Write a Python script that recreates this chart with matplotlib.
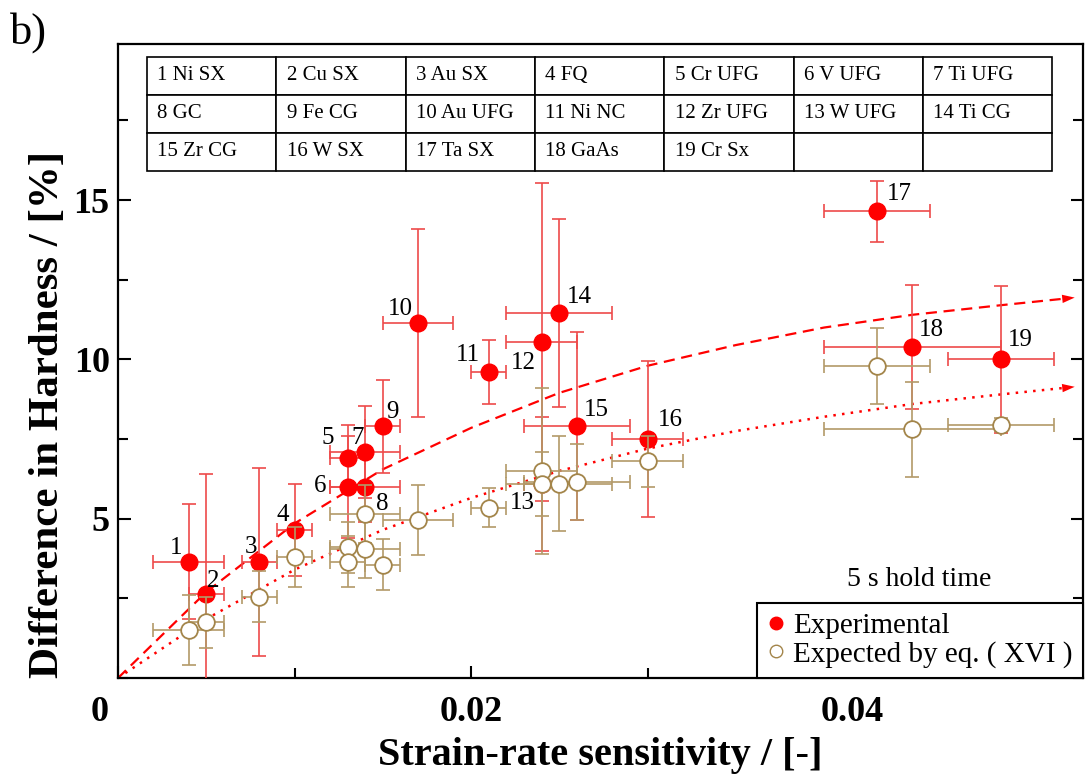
import matplotlib
matplotlib.use('Agg')
import matplotlib.pyplot as plt
from matplotlib.lines import Line2D
from matplotlib.ticker import MultipleLocator
from matplotlib.transforms import ScaledTranslation

plt.rcParams['font.family'] = ['Liberation Serif', 'DejaVu Serif']

# Datos
etiquetas = [str(i) for i in range(1, 20)]
srs = [0.0040, 0.0050, 0.0080, 0.0100, 0.0130, 0.0130, 0.0140, 0.0140, 0.0150, 0.0170,
       0.0210, 0.0240, 0.0240, 0.0250, 0.0260, 0.0300, 0.0430, 0.0450, 0.0500]
srs_err = [0.002, 0.001, 0.001, 0.001, 0.001, 0.001, 0.002, 0.002, 0.001, 0.002,
           0.001, 0.002, 0.001, 0.003, 0.003, 0.002, 0.003, 0.005, 0.003]

exp_y = [3.65, 2.65, 3.65, 4.65, 6.9, 6.0, 7.1, 6.0, 7.9, 11.15,
         9.6, 10.55, 6.1, 11.45, 7.9, 7.5, 14.65, 10.4, 10.0]
exp_yerr = [1.8, 3.75, 2.95, 1.45, 1.05, 1.6, 1.45, 1.1, 1.45, 2.95,
            1.0, 5.0, 2.1, 2.95, 2.95, 2.45, 0.95, 1.95, 2.3]

teo_y = [1.5, 1.75, 2.55, 3.8, 4.1, 3.65, 4.05, 5.15, 3.55, 4.95,
         5.35, 6.5, 6.1, 6.1, 6.15, 6.8, 9.8, 7.8, 7.95]
teo_yerr = [1.1, 0.8, 0.8, 0.95, 0.8, 0.8, 0.9, 0.9, 0.8, 1.1,
            0.6, 2.6, 1.0, 1.5, 1.2, 0.8, 1.2, 1.5, 0.2]

# desplazamiento de cada numero respecto a su punto (pixeles)
etiqueta_dx = [-13, 7, -8, -12, -20, -27, -8, 17, 10, -18, -21, -18, -19, 20, 19, 23, 22, 19, 20]
etiqueta_dy = [14, 13, 15, 15, 20, 1, 14, -17, 14, 14, 17, -21, -19, 16, 16, 19, 17, 17, 19]

# curvas de tendencia
curva_x = [0, 0.005, 0.010, 0.015, 0.020, 0.025, 0.030, 0.035, 0.040, 0.045, 0.050, 0.0535]
curva_exp = [0, 2.7, 4.85, 6.55, 7.85, 8.95, 9.8, 10.45, 11.0, 11.4, 11.7, 11.9]
curva_teo = [0, 1.85, 3.4, 4.65, 5.65, 6.5, 7.2, 7.75, 8.2, 8.6, 8.9, 9.1]

tabla = [['1 Ni SX', '2 Cu SX', '3 Au SX', '4 FQ', '5 Cr UFG', '6 V UFG', '7 Ti UFG'],
         ['8 GC', '9 Fe CG', '10 Au UFG', '11 Ni NC', '12 Zr UFG', '13 W UFG', '14 Ti CG'],
         ['15 Zr CG', '16 W SX', '17 Ta SX', '18 GaAs', '19 Cr Sx', '', '']]

ROJO = '#ff0000'
ROJO_ERR = '#ee4a4a'
CAFE = '#a3854a'
CAFE_ERR = '#b39a68'

fig = plt.figure(figsize=(10.89, 7.76), dpi=100)
ax = fig.add_axes([0.1084, 0.1263, 0.8861, 0.8170])

# curvas de tendencia con flecha al final
ax.plot(curva_x, curva_exp, ls=(0, (5, 3)), color=ROJO, lw=1.6, zorder=2)
ax.plot(curva_x, curva_teo, ls=(0, (1, 2.5)), color=ROJO, lw=1.8, zorder=2)
for cy in (curva_exp, curva_teo):
    ax.annotate('', xy=(0.0542, cy[-1] + (cy[-1] - cy[-2]) * 0.2), xytext=(curva_x[-2], cy[-2]),
                arrowprops=dict(arrowstyle='-|>,head_length=0.9,head_width=0.3',
                                color=ROJO, lw=0, shrinkA=0, shrinkB=0), zorder=2)

# puntos experimentales y esperados
ax.errorbar(srs, exp_y, xerr=srs_err, yerr=exp_yerr, fmt='none', ecolor=ROJO_ERR,
            elinewidth=1.2, capsize=5, capthick=1.2, zorder=3)
ax.plot(srs, exp_y, 'o', color=ROJO, markersize=12, zorder=4)
ax.errorbar(srs, teo_y, xerr=srs_err, yerr=teo_yerr, fmt='none', ecolor=CAFE_ERR,
            elinewidth=1.2, capsize=5, capthick=1.2, zorder=5)
ax.plot(srs, teo_y, 'o', mfc='white', mec=CAFE, mew=1.3, markersize=12, zorder=6)

for lab, x, y, dx, dy in zip(etiquetas, srs, exp_y, etiqueta_dx, etiqueta_dy):
    ax.annotate(lab, (x, y), xytext=(dx * 0.72, dy * 0.72), textcoords='offset points',
                ha='center', va='center', fontsize=18, zorder=7)

# ejes
ax.set_xlim(0, 0.05467)
ax.set_ylim(0, 19.9)
ax.xaxis.set_minor_locator(MultipleLocator(0.01))
ax.yaxis.set_minor_locator(MultipleLocator(2.5))
ax.set_xticks([0, 0.02, 0.04])
ax.set_xticklabels(['0', '0.02', '0.04'])
ax.set_yticks([5, 10, 15])
ax.set_yticklabels(['5', '10', '15'])
ax.tick_params(which='both', direction='in', top=False, right=True, width=1.5,
               labelsize=26)
ax.tick_params(axis='y', pad=6)
ax.tick_params(axis='x', pad=13)
ax.tick_params(which='major', length=9)
ax.tick_params(which='minor', length=7)
for t in ax.get_xticklabels() + ax.get_yticklabels():
    t.set_fontweight('bold')
xt = ax.get_xticklabels()
xt[0].set_transform(xt[0].get_transform() + ScaledTranslation(-0.18, 0, fig.dpi_scale_trans))
xt[2].set_transform(xt[2].get_transform() + ScaledTranslation(0.28, 0, fig.dpi_scale_trans))
for s in ax.spines.values():
    s.set_linewidth(1.6)

ax.set_xlabel('Strain-rate sensitivity / [-]', fontsize=29, fontweight='bold', labelpad=6)
ax.set_ylabel('Difference in Hardness / [%]', fontsize=31, fontweight='bold')
ax.yaxis.set_label_coords(-0.053, 0.415)

# tabla de materiales
t = ax.table(cellText=tabla, cellLoc='left', bbox=[0.030, 0.7997, 0.938, 0.1798])
t.auto_set_font_size(False)
t.set_fontsize(15)
for c in t.get_celld().values():
    c.set_linewidth(1.2)
    c.PAD = 0.08

ax.text(0.83, 0.155, '5 s hold time', transform=ax.transAxes, ha='center', va='center',
        fontsize=20)

manejadores = [Line2D([], [], marker='o', ls='none', color=ROJO, markersize=9),
               Line2D([], [], marker='o', ls='none', mfc='white', mec=CAFE, markersize=9)]
leg = ax.legend(manejadores, ['Experimental', 'Expected by eq. ( XVI )'], loc='lower right',
                borderaxespad=0, fancybox=False, framealpha=1, edgecolor='black',
                fontsize=21, handletextpad=0.3, borderpad=0.35, labelspacing=0.05,
                handlelength=0.6)
leg.get_frame().set_linewidth(1.5)
leg.set_zorder(10)

fig.text(0.009, 0.944, 'b)', fontsize=32)

fig.savefig('out.png', dpi=100)
